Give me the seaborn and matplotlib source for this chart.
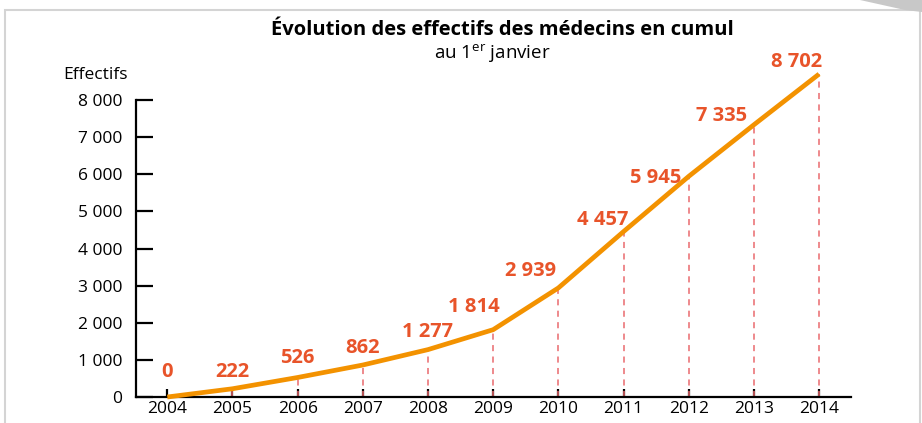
import matplotlib

matplotlib.use("Agg")
import matplotlib.pyplot as plt
import matplotlib.patches as mpatches
import pandas as pd
import seaborn as sns

years = [2004, 2005, 2006, 2007, 2008, 2009, 2010, 2011, 2012, 2013, 2014]
effectifs = [0, 222, 526, 862, 1277, 1814, 2939, 4457, 5945, 7335, 8702]
y_ticks = [0, 1000, 2000, 3000, 4000, 5000, 6000, 7000, 8000]

# label offsets in points (dx, dy) relative to each point
label_offsets = [(0, 18), (0, 12), (0, 14), (0, 12), (0, 13), (-14, 16),
                 (-20, 12), (-15, 8), (-24, -1), (-23, 6), (-16, 9)]

title = "Évolution des effectifs des médecins en cumul"
line_color = "#f39200"
label_color = "#e8542a"
dash_color = "#ea6a6e"


def fmt(value):
    return f"{int(value):,}".replace(",", " ")


frame = pd.DataFrame({"annee": years, "effectifs": effectifs})

sns.set_theme(style="white")
plt.rcParams["font.family"] = ["Open Sans", "DejaVu Sans"]
plt.rcParams["mathtext.fontset"] = "custom"
plt.rcParams["mathtext.rm"] = "Open Sans"

fig = plt.figure(figsize=(9.22, 4.23), dpi=100)
fig.patches.append(mpatches.Rectangle((5 / 922, -0.1), 915 / 922, 1.1 - 10 / 423,
                                      transform=fig.transFigure, fill=False,
                                      edgecolor="#d4d4d4", linewidth=1.5))
fig.patches.append(mpatches.Polygon([(860 / 922, 1.0), (922 / 922, 1.0), (922 / 922, 1 - 12 / 423),
                                     (905 / 922, 1 - 10 / 423)], closed=True,
                                    transform=fig.transFigure, facecolor="#c8c8c8",
                                    edgecolor="none"))

ax = fig.add_axes([136 / 922, 1 - 397 / 423, 715 / 922, 334 / 423])
ax.set_facecolor("none")

ax.vlines(frame["annee"][1:], 0, frame["effectifs"][1:], colors=dash_color,
          linestyles=(0, (4, 3.5)), linewidth=1.1, zorder=1)
sns.lineplot(data=frame, x="annee", y="effectifs", color=line_color, linewidth=3.4,
             ax=ax, zorder=3, clip_on=False, solid_capstyle="butt")

for year, value, (dx, dy) in zip(years, effectifs, label_offsets):
    ax.annotate(fmt(value), (year, value), xytext=(dx, dy), textcoords="offset points",
                ha="center", va="center", color=label_color, fontsize=14.5,
                fontweight="bold", zorder=4)

ax.set_xlim(2003.52, 2014.49)
ax.set_ylim(0, 9000)
ax.set_xticks(years)
ax.set_xticklabels([str(y) for y in years])
ax.set_yticks(y_ticks)
ax.set_yticklabels([fmt(v) for v in y_ticks])
ax.set_xlabel("")
ax.set_ylabel("")

for side in ["top", "right"]:
    ax.spines[side].set_visible(False)
ax.spines["left"].set_bounds(0, 8000)
for side in ["left", "bottom"]:
    ax.spines[side].set_color("black")
    ax.spines[side].set_linewidth(1.6)

ax.tick_params(axis="y", direction="in", length=12, width=1.6, color="black",
               pad=10, labelsize=12.5, labelcolor="black", left=True)
ax.tick_params(axis="x", direction="in", length=6, width=1.6, color="black",
               pad=3, labelsize=12.5, labelcolor="black", bottom=True)

fig.text(502 / 922, 1 - 30 / 423, title, ha="center", va="center",
         fontsize=14.5, fontweight="bold", color="black")
fig.text(492 / 922, 1 - 54 / 423, "au 1$^{\\mathrm{er}}$ janvier", ha="center", va="center",
         fontsize=13.5, color="black")
fig.text(95 / 922, 1 - 75 / 423, "Effectifs", ha="center", va="center",
         fontsize=12.5, color="black")

fig.savefig("out.png", dpi=100)
